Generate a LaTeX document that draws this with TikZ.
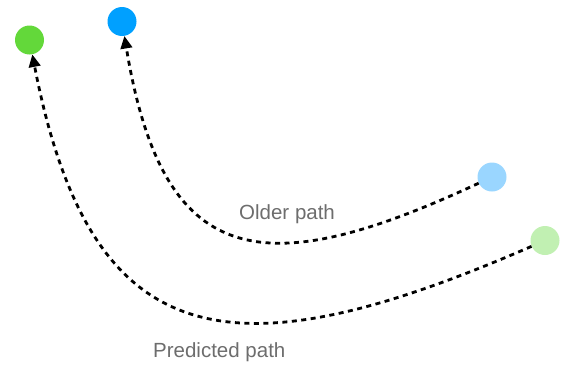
\documentclass[tikz,border=0pt]{standalone}
\usepackage{fontspec}
\setmainfont{Liberation Sans}
\usetikzlibrary{arrows.meta}

\definecolor{darkgreen}{HTML}{63D83A}
\definecolor{darkblue}{HTML}{00A0FF}
\definecolor{paleblue}{HTML}{9AD6FF}
\definecolor{palegreen}{HTML}{C1F0B2}
\definecolor{labelgray}{HTML}{6D6D6D}

\tikzset{
  dot/.style={circle,inner sep=0pt,minimum size=29pt},
  trail/.style={line width=2.8pt,dash pattern=on 5pt off 4.5pt,-{Triangle[length=12.5pt,width=11.5pt]}},
  tag/.style={anchor=base west,inner sep=0pt,text=labelgray,font=\fontsize{20.5}{24}\selectfont}
}

\begin{document}
\begin{tikzpicture}[x=1pt,y=-1pt]
        \useasboundingbox (0,0) rectangle (565,367);
        \node [dot,fill=darkgreen] (newstart) at (29.5,40) {};
        \node [dot,fill=darkblue] (oldstart) at (122,21.5) {};
        \node [dot,fill=paleblue] (oldend) at (492,177) {};
        \node [dot,fill=palegreen] (newend) at (545,240.5) {};
        \draw [trail] (oldend) .. controls (262,284) and (163,270) .. (oldstart);
        \draw [trail] (newend) .. controls (231,377) and (91,357) .. (newstart);
        \node [tag] (oldlabel) at (239,219) {Older path};
        \node [tag] (newlabel) at (153,357) {Predicted path};
        \end{tikzpicture}
\end{document}
